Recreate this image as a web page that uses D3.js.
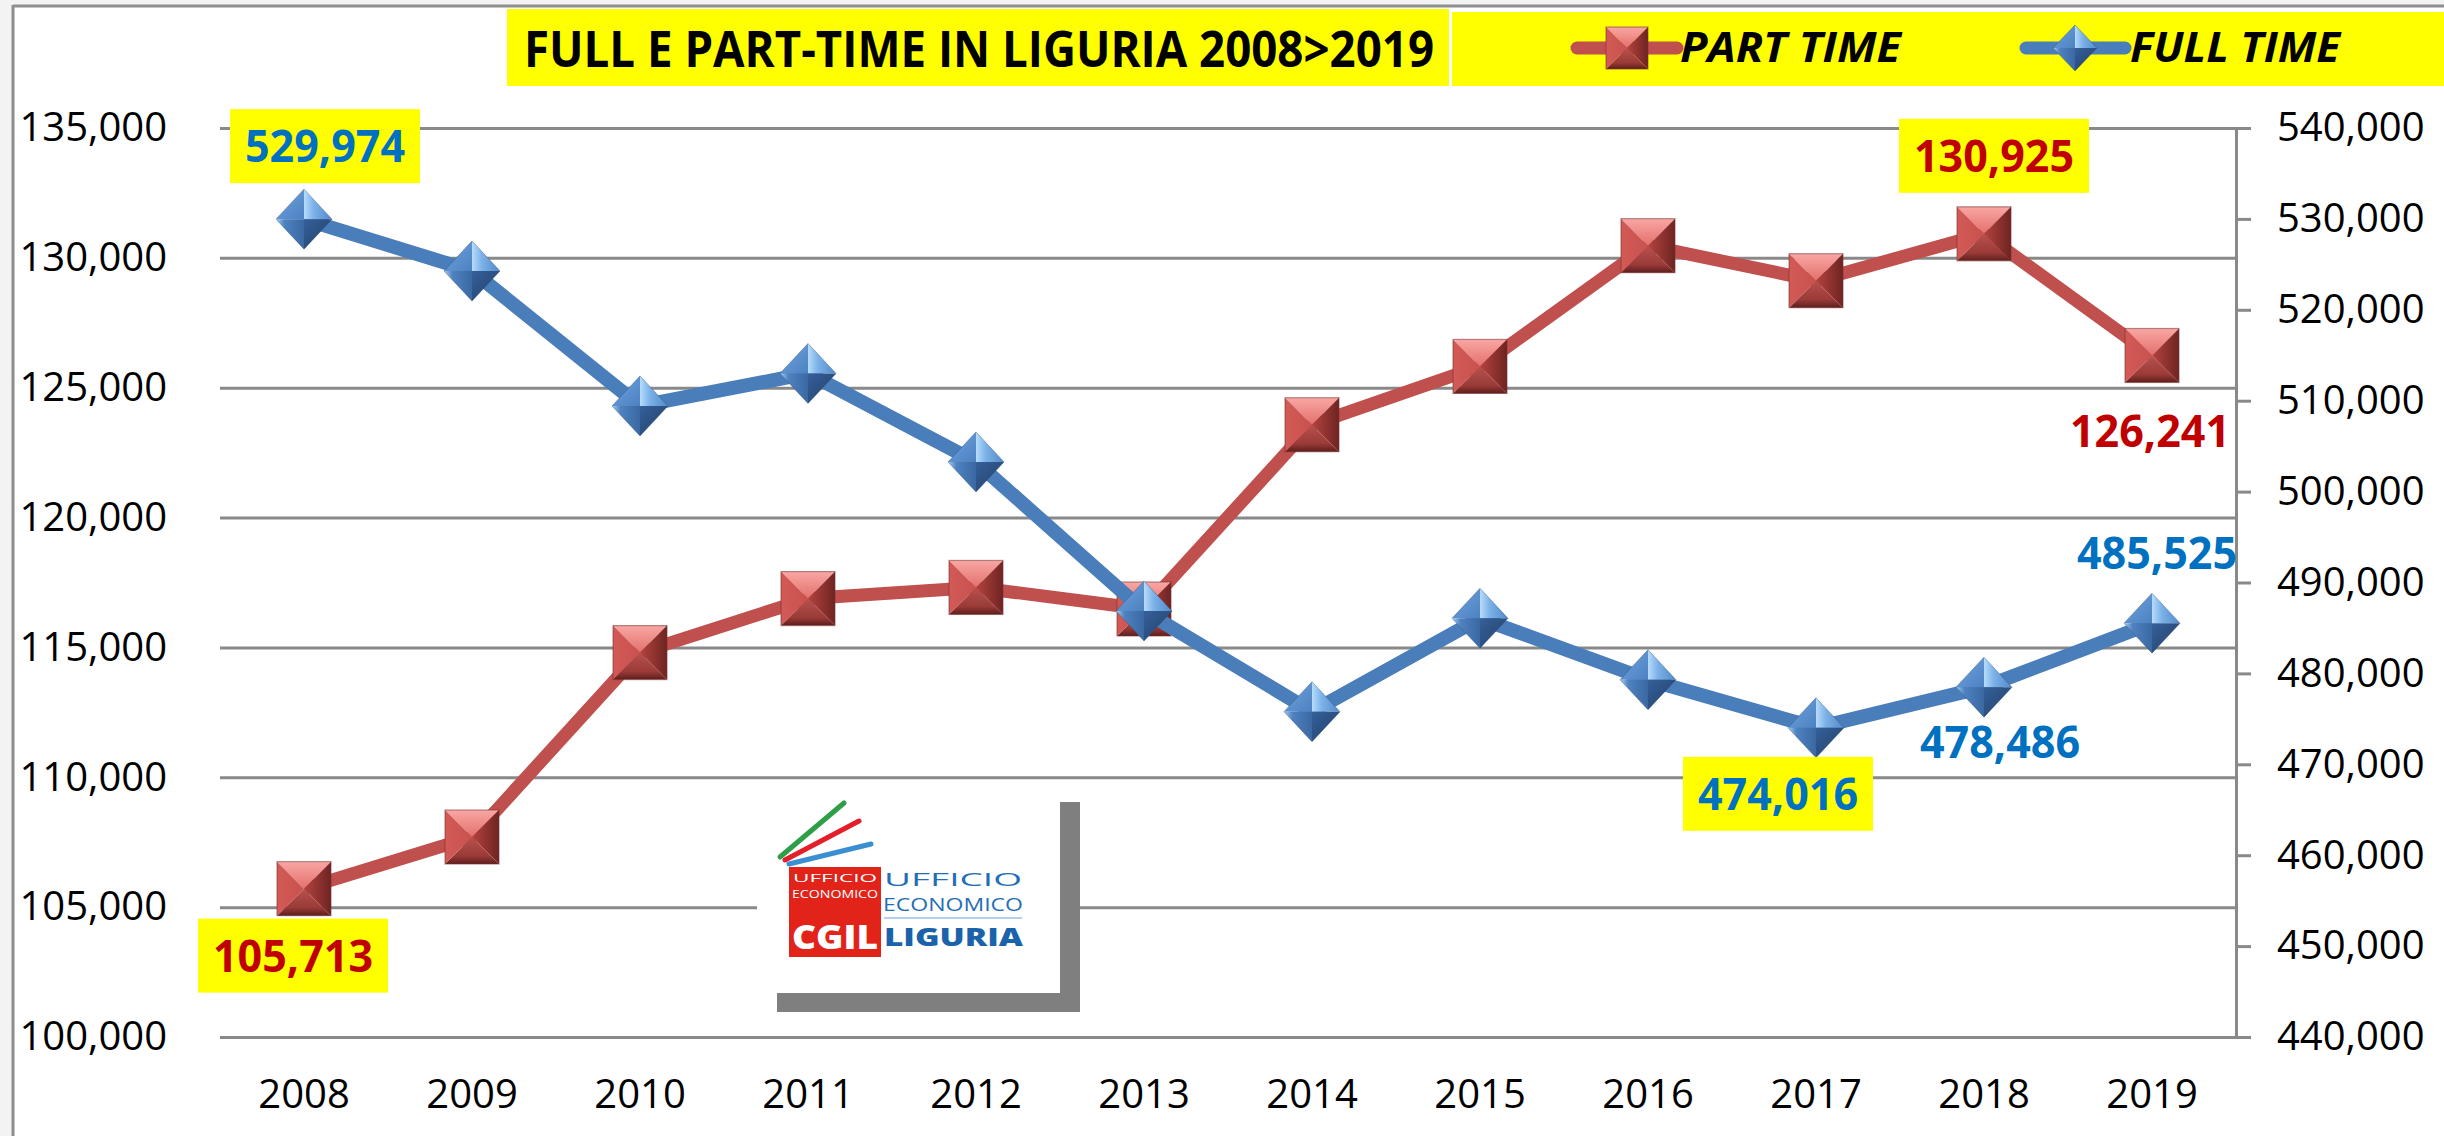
<!DOCTYPE html>
<html>
<head>
<meta charset="utf-8">
<script src="https://cdn.jsdelivr.net/npm/d3@7"></script>
<style>
  html, body { margin: 0; padding: 0; background: #f3f3f3; }
  svg { display: block; }
  text { font-family: "Open Sans", "Liberation Sans", sans-serif; }
</style>
</head>
<body>
<svg id="chart" width="2444" height="1136"></svg>
<script>
// ---- data ----
const years = ["2008", "2009", "2010", "2011", "2012", "2013", "2014", "2015", "2016", "2017", "2018", "2019"];
const partTime = [105713, 107700, 114800, 116880, 117310, 116480, 123575, 125820, 130470, 129120, 130925, 126241];
const fullTime = [529974, 524270, 509420, 513000, 503260, 486860, 475790, 486060, 479300, 474016, 478486, 485525];
const seriesNames = ["PART TIME", "FULL TIME"];
const titleText = "FULL E PART-TIME IN LIGURIA 2008>2019";
const leftTickValues = [100000, 105000, 110000, 115000, 120000, 125000, 130000, 135000];
const rightTickValues = [440000, 450000, 460000, 470000, 480000, 490000, 500000, 510000, 520000, 530000, 540000];

// data labels: which series / year, placement relative to the marker, boxed or not
const labelSpecs = [
  { series: "full", year: "2008", dx: 21,  dy: -73, box: true },
  { series: "part", year: "2008", dx: -11, dy: 67,  box: true },
  { series: "part", year: "2018", dx: 10,  dy: -78, box: true },
  { series: "part", year: "2019", dx: -2,  dy: 76,  box: false },
  { series: "full", year: "2019", dx: 5,   dy: -70, box: false },
  { series: "full", year: "2017", dx: -38, dy: 66,  box: true },
  { series: "full", year: "2018", dx: 16,  dy: 55,  box: false }
];

// ---- layout ----
const W = 2444, H = 1136;
const plot = { left: 220, right: 2236, top: 128, bottom: 1037 };
const RED = "#C0504D", BLUE = "#4A7EBB";
const RED_TXT = "#C00000", BLUE_TXT = "#0070C0";
const fmt = d3.format(",");

const svg = d3.select("#chart");

// gradients for the bevelled markers
const defs = svg.append("defs");
function lin(id, x1, y1, x2, y2, stops) {
  const g = defs.append("linearGradient").attr("id", id)
    .attr("x1", x1).attr("y1", y1).attr("x2", x2).attr("y2", y2);
  stops.forEach(([o, c]) => g.append("stop").attr("offset", o).attr("stop-color", c));
}
lin("sqTop", 0, 0, 0, 1, [[0, "#F9A7A4"], [1, "#E3706C"]]);
lin("sqLeft", 0, 0, 1, 0, [[0, "#D35A56"], [1, "#C8524E"]]);
lin("sqRight", 0, 0, 1, 0, [[0, "#B4433F"], [1, "#6E2422"]]);
lin("sqBottom", 0, 0, 0, 1, [[0, "#B8514E"], [0.7, "#9A3B38"], [1, "#5E1E1C"]]);
lin("dTL", 0, 0, 1, 1, [[0, "#6FA2DE"], [1, "#4D82C2"]]);
lin("dTR", 0, 0, 1, 0, [[0, "#B5DCFB"], [0.35, "#7CB1E8"], [1, "#5189C9"]]);
lin("dBL", 0, 0, 1, 0, [[0, "#A6D0F4"], [0.3, "#4F82C0"], [1, "#3A68A2"]]);
lin("dBR", 0, 0, 1, 1, [[0, "#35609A"], [1, "#223F66"]]);

// ---- frame ----
svg.append("rect").attr("x", 13).attr("y", 6).attr("width", W).attr("height", H).attr("fill", "#ffffff");
svg.append("line").attr("x1", 13).attr("x2", W).attr("y1", 6).attr("y2", 6)
  .attr("stroke", "#8e8e8e").attr("stroke-width", 3);
svg.append("line").attr("x1", 13).attr("x2", 13).attr("y1", 5).attr("y2", H)
  .attr("stroke", "#8e8e8e").attr("stroke-width", 3);

// ---- scales ----
const x = d3.scaleBand().domain(years).range([plot.left, plot.right]);
const cx = d => x(d) + x.bandwidth() / 2;
const yL = d3.scaleLinear().domain([100000, 135000]).range([plot.bottom, plot.top]);
const yR = d3.scaleLinear().domain([440000, 540000]).range([plot.bottom, plot.top]);

// ---- axes ----
const gL = svg.append("g").attr("transform", `translate(${plot.left},0)`)
  .call(d3.axisLeft(yL).tickValues(leftTickValues).tickFormat(fmt)
    .tickSizeInner(-(plot.right - plot.left)).tickSizeOuter(0).tickPadding(53));
gL.select(".domain").remove();
gL.selectAll(".tick line").attr("stroke", "#898989").attr("stroke-width", 3);
gL.selectAll(".tick text").attr("font-size", 40).attr("fill", "#000").attr("font-family", "Open Sans");

const gR = svg.append("g").attr("transform", `translate(${plot.right},0)`)
  .call(d3.axisRight(yR).tickValues(rightTickValues).tickFormat(fmt)
    .tickSizeInner(15).tickSizeOuter(0).tickPadding(26));
gR.select(".domain").attr("stroke", "#898989").attr("stroke-width", 3);
gR.selectAll(".tick line").attr("stroke", "#898989").attr("stroke-width", 3);
gR.selectAll(".tick text").attr("font-size", 40).attr("fill", "#000").attr("font-family", "Open Sans");

const gB = svg.append("g").attr("transform", `translate(0,${plot.bottom})`)
  .call(d3.axisBottom(x).tickSize(0).tickPadding(43));
gB.select(".domain").remove();
gB.selectAll(".tick text").attr("font-size", 40).attr("fill", "#000").attr("font-family", "Open Sans");

// ---- logo panel ----
const logo = svg.append("g");
logo.append("rect").attr("x", 757).attr("y", 795).attr("width", 303).attr("height", 198).attr("fill", "#fff");
logo.append("rect").attr("x", 1060).attr("y", 802).attr("width", 20).attr("height", 210).attr("fill", "#7f7f7f");
logo.append("rect").attr("x", 777).attr("y", 993).attr("width", 303).attr("height", 19).attr("fill", "#7f7f7f");
[["#2E9E48", 780, 857, 844, 803], ["#E3202A", 785, 860, 859, 821], ["#3A8FD0", 789, 864, 871, 844]]
  .forEach(([c, x1, y1, x2, y2]) => logo.append("line")
    .attr("x1", x1).attr("y1", y1).attr("x2", x2).attr("y2", y2)
    .attr("stroke", c).attr("stroke-width", 5).attr("stroke-linecap", "round"));
logo.append("rect").attr("x", 789).attr("y", 867).attr("width", 92).attr("height", 90).attr("fill", "#E2231A");

// logo wording, letter-spaced to fixed widths
function logoText(s, xx, yy, size, weight, color, len) {
  logo.append("text").attr("x", xx).attr("y", yy).text(s)
    .attr("font-size", size).attr("font-weight", weight).attr("fill", color)
    .attr("textLength", len).attr("lengthAdjust", "spacingAndGlyphs");
}
logoText("UFFICIO", 793, 882, 11, 400, "#fff", 84);
logoText("ECONOMICO", 792, 898, 11, 400, "#fff", 86);
logoText("CGIL", 792, 949, 34, 800, "#fff", 86);
logoText("UFFICIO", 884, 886, 18, 400, "#1f6fb8", 138);
logoText("ECONOMICO", 883, 911, 18, 400, "#1f6fb8", 140);
logoText("LIGURIA", 884, 946, 24, 800, "#1a63aa", 139);
logo.append("line").attr("x1", 884).attr("x2", 1022).attr("y1", 918).attr("y2", 918)
  .attr("stroke", "#9cc1e4").attr("stroke-width", 1.5);

// ---- markers ----
function squareMarker(g, s) {
  const faces = [
    [[-s, -s], [s, -s], [0, 0], "url(#sqTop)"],
    [[s, -s], [s, s], [0, 0], "url(#sqRight)"],
    [[s, s], [-s, s], [0, 0], "url(#sqBottom)"],
    [[-s, s], [-s, -s], [0, 0], "url(#sqLeft)"]
  ];
  faces.forEach(f => g.append("path")
    .attr("d", `M${f[0]}L${f[1]}L${f[2]}Z`).attr("fill", f[3]));
  g.append("rect").attr("x", -s).attr("y", -s).attr("width", 2 * s).attr("height", 2 * s)
    .attr("fill", "none").attr("stroke", "#7a3331").attr("stroke-opacity", 0.55).attr("stroke-width", 1.2);
}
function diamondMarker(g, w, h) {
  const T = [0, -h], R = [w, 0], B = [0, h], L = [-w, 0], C = [0, 0];
  const faces = [
    [L, T, C, "url(#dTL)"], [T, R, C, "url(#dTR)"],
    [R, B, C, "url(#dBR)"], [B, L, C, "url(#dBL)"]
  ];
  faces.forEach(f => g.append("path")
    .attr("d", `M${f[0]}L${f[1]}L${f[2]}Z`).attr("fill", f[3]));
  g.append("path").attr("d", `M${T}L${R}L${B}L${L}Z`)
    .attr("fill", "none").attr("stroke", "#2b4d78").attr("stroke-opacity", 0.4).attr("stroke-width", 1);
}

// ---- series lines ----
const partData = years.map((yr, i) => ({ year: yr, value: partTime[i] }));
const fullData = years.map((yr, i) => ({ year: yr, value: fullTime[i] }));

const linePart = d3.line().x(d => cx(d.year)).y(d => yL(d.value));
const lineFull = d3.line().x(d => cx(d.year)).y(d => yR(d.value));

svg.append("path").datum(partData).attr("d", linePart)
  .attr("fill", "none").attr("stroke", RED).attr("stroke-width", 13).attr("stroke-linejoin", "round");
svg.selectAll("g.pm").data(partData).join("g").attr("class", "pm")
  .attr("transform", d => `translate(${cx(d.year)},${yL(d.value)})`)
  .each(function () { squareMarker(d3.select(this), 27); });

svg.append("path").datum(fullData).attr("d", lineFull)
  .attr("fill", "none").attr("stroke", BLUE).attr("stroke-width", 14).attr("stroke-linejoin", "round");
svg.selectAll("g.fm").data(fullData).join("g").attr("class", "fm")
  .attr("transform", d => `translate(${cx(d.year)},${yR(d.value)})`)
  .each(function () { diamondMarker(d3.select(this), 28, 30); });

// ---- data labels ----
const lblG = svg.append("g");
labelSpecs.forEach(sp => {
  const i = years.indexOf(sp.year);
  const isPart = sp.series === "part";
  const v = isPart ? partTime[i] : fullTime[i];
  const px = cx(sp.year), py = isPart ? yL(v) : yR(v);
  const lx = px + sp.dx, ly = py + sp.dy;
  if (sp.box) {
    lblG.append("rect").attr("x", lx - 95).attr("y", ly - 37).attr("width", 190).attr("height", 74)
      .attr("fill", "#FFFF00");
  }
  lblG.append("text").attr("x", lx).attr("y", ly + 16).attr("text-anchor", "middle")
    .attr("font-size", 44).attr("font-weight", 700)
    .attr("fill", isPart ? RED_TXT : BLUE_TXT)
    .attr("textLength", 160).attr("lengthAdjust", "spacingAndGlyphs")
    .text(fmt(v));
});

// ---- title ----
svg.append("rect").attr("x", 507).attr("y", 9).attr("width", 942).attr("height", 77).attr("fill", "#FFFF00");
svg.append("text").attr("x", 524).attr("y", 67).text(titleText)
  .attr("font-size", 50).attr("font-weight", 700).attr("fill", "#000")
  .attr("textLength", 910).attr("lengthAdjust", "spacingAndGlyphs");

// ---- legend ----
svg.append("rect").attr("x", 1452).attr("y", 12).attr("width", W - 1452).attr("height", 74).attr("fill", "#FFFF00");
const legendItems = [
  { name: seriesNames[0], color: RED, x0: 1577, x1: 1677, mx: 1627, tx: 1680, tl: 221, kind: "square" },
  { name: seriesNames[1], color: BLUE, x0: 2026, x1: 2125, mx: 2075, tx: 2130, tl: 210, kind: "diamond" }
];
legendItems.forEach(it => {
  svg.append("line").attr("x1", it.x0).attr("x2", it.x1).attr("y1", 48).attr("y2", 48)
    .attr("stroke", it.color).attr("stroke-width", 13).attr("stroke-linecap", "round");
  const g = svg.append("g").attr("transform", `translate(${it.mx},48)`);
  if (it.kind === "square") squareMarker(g, 21); else diamondMarker(g, 22, 23);
  svg.append("text").attr("x", it.tx).attr("y", 62).text(it.name)
    .attr("font-size", 42).attr("font-weight", 700).attr("font-style", "italic").attr("fill", "#000")
    .attr("textLength", it.tl).attr("lengthAdjust", "spacingAndGlyphs");
});
</script>
</body>
</html>
